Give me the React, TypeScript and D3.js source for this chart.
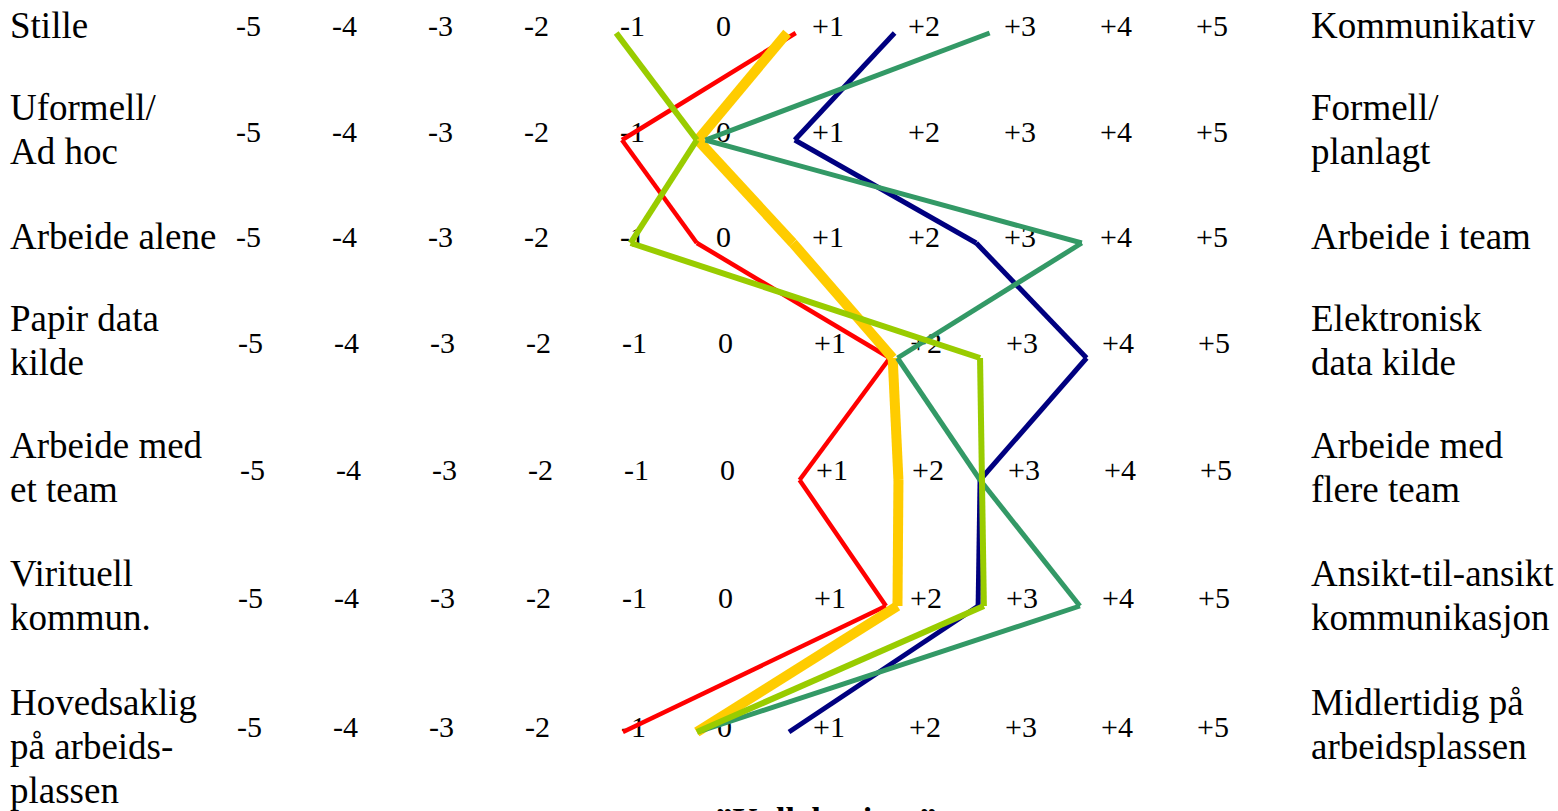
import React from "react";
import * as d3 from "d3";

// ---- data ----
const leftLabels: string[][] = [
  ["Stille"],
  ["Uformell/", "Ad hoc"],
  ["Arbeide alene"],
  ["Papir data", "kilde"],
  ["Arbeide med", "et team"],
  ["Virituell", "kommun."],
  ["Hovedsaklig", "på arbeids-", "plassen"],
];
const rightLabels: string[][] = [
  ["Kommunikativ"],
  ["Formell/", "planlagt"],
  ["Arbeide i team"],
  ["Elektronisk", "data kilde"],
  ["Arbeide med", "flere team"],
  ["Ansikt-til-ansikt", "kommunikasjon"],
  ["Midlertidig på", "arbeidsplassen"],
];
const scaleValues: number[] = [-5, -4, -3, -2, -1, 0, 1, 2, 3, 4, 5];
const tickLabels: string[] = ["-5", "-4", "-3", "-2", "-1", "0", "+1", "+2", "+3", "+4", "+5"];

const redValues: number[] = [0.82, -0.99, -0.21, 1.8, 0.86, 1.76, -0.98];
const yellowValues: number[] = [0.73, -0.2, 0.79, 1.83, 1.89, 1.88, -0.21];
const navyValues: number[] = [1.85, 0.81, 2.7, 3.85, 2.74, 2.72, 0.75];
const greenValues: number[] = [2.84, -0.12, 3.8, 1.88, 2.74, 3.78, -0.2];
const limeValues: number[] = [-1.05, -0.21, -0.9, 2.74, 2.76, 2.78, -0.21];

const title = "\u201DKollaborium\u201D";

// ---- layout / style ----
const W = 1558;
const H = 811;
const rowLineY = [33, 140, 243, 358, 480, 606, 732];
const rowTickY = [36, 142, 247, 353, 480, 608, 737];
const rowTickShift = [0, 0, 0, 2, 4, 2, 1];
const FONT = "Liberation Serif, serif";

const series = [
  { values: redValues, color: "#FF0000", width: 4.5 },
  { values: yellowValues, color: "#FFCC00", width: 10 },
  { values: navyValues, color: "#000080", width: 5 },
  { values: greenValues, color: "#339966", width: 5 },
  { values: limeValues, color: "#99CC00", width: 6 },
];

export default function App() {
  const x = d3.scaleLinear().domain([-5, 5]).range([237, 1197]);
  const rows = d3.range(leftLabels.length);

  const labelBaseline = (r: number, n: number) =>
    n > 1 ? rowTickY[r] - 22 : rowTickY[r] + 2;

  return (
    <svg
      width={W}
      height={H}
      style={{ position: "absolute", left: 0, top: 0, background: "#fff", overflow: "hidden" }}
    >
      <rect width={W} height={H} fill="#fff" />
      {rows.map((r) => (
        <g key={"row" + r}>
          {leftLabels[r].map((line, i) => (
            <text key={"l" + i} x={10} y={labelBaseline(r, leftLabels[r].length) + i * 44} fontSize={37} fill="#000" fontFamily={FONT}>
              {line}
            </text>
          ))}
          {rightLabels[r].map((line, i) => (
            <text key={"r" + i} x={1311} y={labelBaseline(r, rightLabels[r].length) + i * 44} fontSize={37} fill="#000" fontFamily={FONT}>
              {line}
            </text>
          ))}
          {scaleValues.map((v, i) => (
            <text key={"t" + i} x={x(v) - 1 + rowTickShift[r]} y={rowTickY[r]} fontSize={30} fill="#000" fontFamily={FONT}>
              {tickLabels[i]}
            </text>
          ))}
        </g>
      ))}
      {series.map((s, si) => (
        <g key={"s" + si}>
          {d3.pairs(s.values.map((v, r) => [x(v), rowLineY[r]] as [number, number])).map(([a, b], k) => (
            <line
              key={k}
              x1={a[0]}
              y1={a[1]}
              x2={b[0]}
              y2={b[1]}
              stroke={s.color}
              strokeWidth={s.width}
              strokeLinecap="butt"
            />
          ))}
        </g>
      ))}
      <text x={826} y={831} fontSize={34} fontWeight="bold" textAnchor="middle" fill="#000" fontFamily={FONT}>
        {title}
      </text>
    </svg>
  );
}
